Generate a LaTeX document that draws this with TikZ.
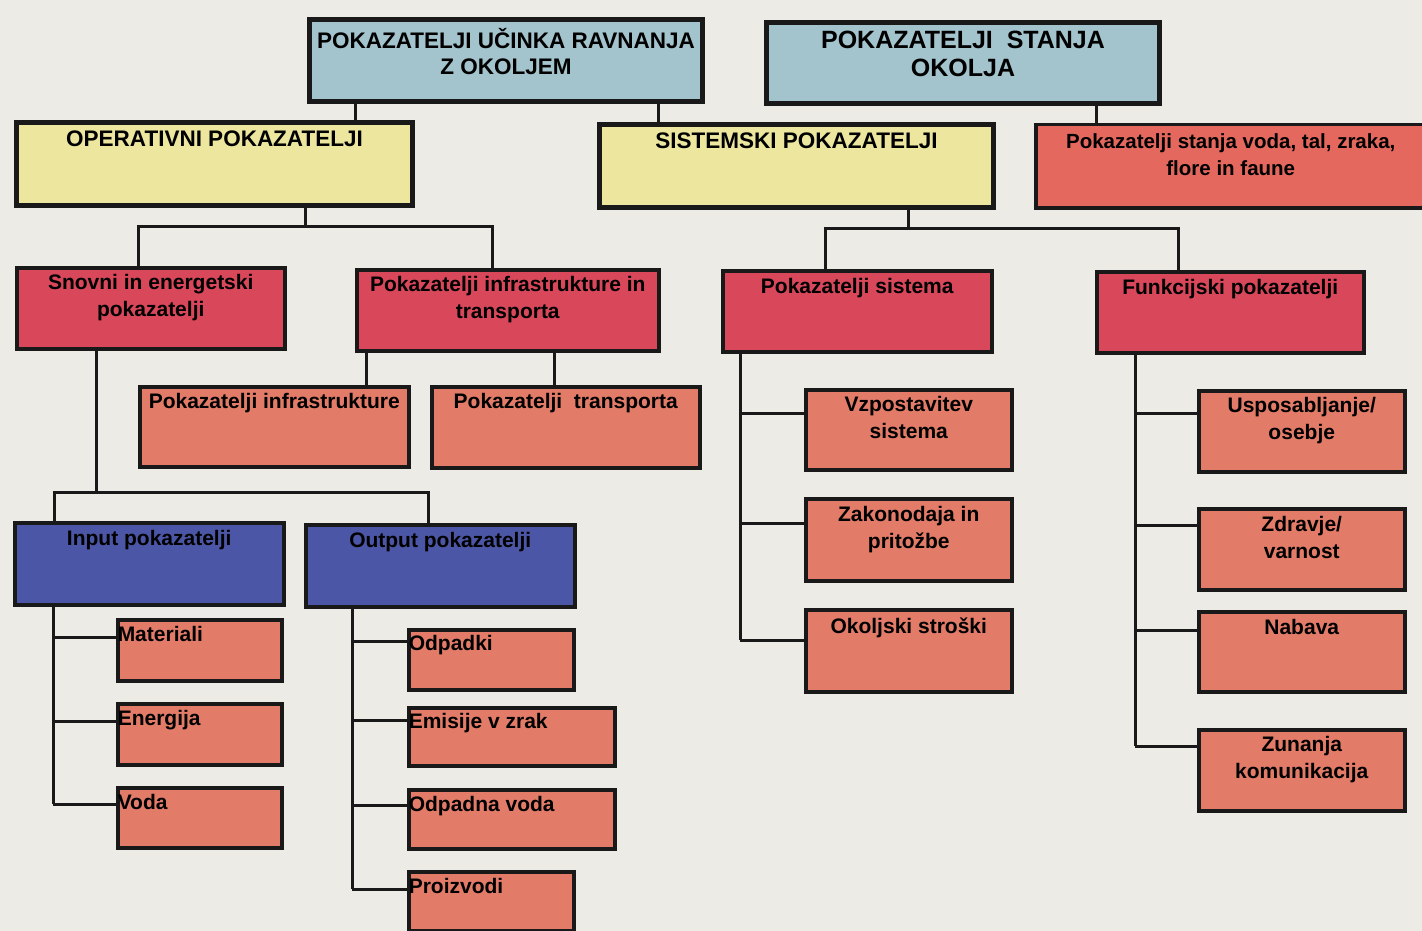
\documentclass[tikz,border=0pt]{standalone}
\usepackage{fontspec}
\setmainfont{Liberation Sans}

\definecolor{paper}{HTML}{ECEBE6}
\definecolor{headblue}{HTML}{A3C3CD}
\definecolor{grpyellow}{HTML}{ECE69E}
\definecolor{midred}{HTML}{D8475A}
\definecolor{stanred}{HTML}{E4685E}
\definecolor{subsalmon}{HTML}{E27B68}
\definecolor{ioblue}{HTML}{4C56A6}

% text of a box, set at its top
\newcommand{\cbox}[4][7pt]{\parbox[c][#3pt][t]{#2pt}{\centering\vspace*{#1}#4}}
\newcommand{\lbox}[4][7pt]{\parbox[c][#3pt][t]{#2pt}{\raggedright\vspace*{#1}#4}}

\begin{document}
\begin{tikzpicture}[x=1pt,y=-1pt,
  box/.style={draw=black!90, line width=3.5pt, inner sep=0pt, anchor=north west,
    font=\bfseries\fontsize{21}{26.5}\selectfont},
  head/.style={box, line width=5pt, fill=headblue, font=\bfseries\fontsize{22.5}{26}\selectfont},
  grp/.style={box, line width=5pt, fill=grpyellow, font=\bfseries\fontsize{22.5}{26}\selectfont},
  mid/.style={box, fill=midred},
  sub/.style={box, fill=subsalmon},
  io/.style={box, fill=ioblue},
  link/.style={line width=3pt, black!90}]
   %\draw[step=50,gray,very thin] (0,0) grid (1422,931);
   \useasboundingbox (0,0) rectangle (1422,931);
   \fill[paper] (0,0) rectangle (1422,931);

   \node [head] (ucinek) at (307,17) {\cbox[9pt]{393}{82}{POKAZATELJI UČINKA RAVNANJA\\Z OKOLJEM}};
   \node [head, font=\bfseries\fontsize{25}{28}\selectfont] (stanje) at (764,20)
      {\cbox[9pt]{393}{81}{POKAZATELJI\ \ STANJA\\OKOLJA}};

   \node [grp] (oper) at (14,120) {\cbox[8pt]{396}{83}{OPERATIVNI POKAZATELJI}};
   \node [grp] (sist) at (597,122) {\cbox[8pt]{394}{83}{SISTEMSKI POKAZATELJI}};
   \node [box, fill=stanred, font=\bfseries\fontsize{20.5}{27}\selectfont] (medij) at (1034,123)
      {\cbox[9pt]{390}{83}{Pokazatelji stanja voda, tal, zraka,\\flore in faune}};

   \node [mid] (snov) at (15,266) {\cbox{268}{81}{Snovni in energetski\\pokazatelji}};
   \node [mid] (inftr) at (355,268) {\cbox{302}{81}{Pokazatelji infrastrukture in\\transporta}};
   \node [mid] (psist) at (721,269) {\cbox[8pt]{269}{81}{Pokazatelji sistema}};
   \node [mid] (funk) at (1095,270) {\cbox[8pt]{267}{81}{Funkcijski pokazatelji}};

   \node [sub] (infra) at (138,385) {\cbox{269}{80}{Pokazatelji infrastrukture}};
   \node [sub] (transp) at (430,385) {\cbox{268}{81}{Pokazatelji\ \ transporta}};

   \node [sub] (vzpost) at (804,388) {\cbox{206}{80}{Vzpostavitev\\sistema}};
   \node [sub] (zakon) at (804,497) {\cbox[8pt]{206}{82}{Zakonodaja in\\pritožbe}};
   \node [sub] (stroski) at (804,608) {\cbox[8pt]{206}{82}{Okoljski stroški}};

   \node [sub] (osebje) at (1197,389) {\cbox{206}{81}{Usposabljanje/\\osebje}};
   \node [sub] (zdravje) at (1197,507) {\cbox[8pt]{206}{81}{Zdravje/\\varnost}};
   \node [sub] (nabava) at (1197,610) {\cbox[8pt]{206}{80}{Nabava}};
   \node [sub] (zunanja) at (1197,728) {\cbox{206}{81}{Zunanja\\komunikacija}};

   \node [io] (input) at (13,521) {\cbox[8pt]{269}{82}{Input pokazatelji}};
   \node [io] (output) at (304,523) {\cbox[8pt]{269}{82}{Output pokazatelji}};

   \node [sub] (mat) at (116,618) {\lbox{164}{61}{Materiali}};
   \node [sub] (ene) at (116,702) {\lbox{164}{61}{Energija}};
   \node [sub] (vod) at (116,786) {\lbox{164}{60}{Voda}};

   \node [sub] (odp) at (407,628) {\lbox[6pt]{165}{60}{Odpadki}};
   \node [sub] (emi) at (407,706) {\lbox[6pt]{206}{58}{Emisije v zrak}};
   \node [sub] (odv) at (407,788) {\lbox{206}{59}{Odpadna voda}};
   \node [sub] (pro) at (407,870) {\lbox{165}{59}{Proizvodi}};

   % top levels
   \draw [link] (ucinek.south -| 355,0) -- (oper.north -| 355,0);
   \draw [link] (ucinek.south -| 658,0) -- (sist.north -| 658,0);
   \draw [link] (stanje.south -| 1096,0) -- (medij.north -| 1096,0);

   \draw [link] (oper.south -| 305,0) -- (305,226);
   \draw [link] (snov.north -| 138,0) -- (138,226) -- (492,226) -- (inftr.north -| 492,0);
   \draw [link] (inftr.south -| 366,0) -- (infra.north -| 366,0);
   \draw [link] (inftr.south -| 554,0) -- (transp.north -| 554,0);

   \draw [link] (sist.south -| 908,0) -- (908,228);
   \draw [link] (psist.north -| 825,0) -- (825,228) -- (1178,228) -- (funk.north -| 1178,0);

   \draw [link] (snov.south -| 96,0) -- (96,492);
   \draw [link] (input.north -| 54,0) -- (54,492) -- (428,492) -- (output.north -| 428,0);

   % side branches
   \draw [link] (input.south -| 53,0) -- (53,804);
   \foreach \n/\y in {mat/637, ene/721, vod/804}
      \draw [link] (53,\y) -- (\n.west |- 0,\y);

   \draw [link] (output.south -| 352,0) -- (352,889);
   \foreach \n/\y in {odp/641, emi/720, odv/805, pro/889}
      \draw [link] (352,\y) -- (\n.west |- 0,\y);

   \draw [link] (psist.south -| 740,0) -- (740,640);
   \foreach \n/\y in {vzpost/413, zakon/523, stroski/640}
      \draw [link] (740,\y) -- (\n.west |- 0,\y);

   \draw [link] (funk.south -| 1135,0) -- (1135,746);
   \foreach \n/\y in {osebje/413, zdravje/525, nabava/630, zunanja/746}
      \draw [link] (1135,\y) -- (\n.west |- 0,\y);

\end{tikzpicture}
\end{document}
